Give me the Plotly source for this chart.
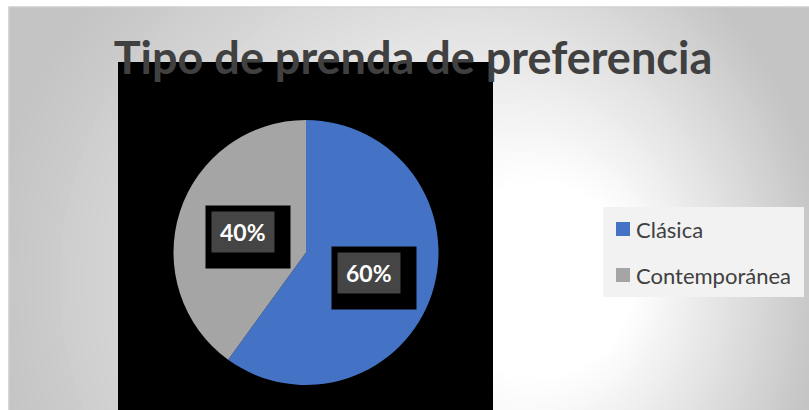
import math
import plotly.graph_objects as go

# ---- data ----
categories = ["Clásica", "Contemporánea"]
values = [60, 40]
colors = ["#4472C4", "#A5A5A5"]
title_text = "Tipo de prenda de preferencia"

W, H = 809, 410


def px(x):
    return x / W


def py(y):
    return 1 - y / H


# pie geometry (pixels)
CX, CY, R = 306, 252.5, 132.5

fig = go.Figure(
    go.Pie(
        labels=categories,
        values=values,
        marker=dict(colors=colors, line=dict(width=0)),
        sort=False,
        direction="clockwise",
        rotation=0,
        textinfo="none",
        hoverinfo="label+percent",
        showlegend=False,
        domain=dict(x=[px(CX - R), px(CX + R)], y=[py(CY + R), py(CY - R)]),
    )
)

shapes = []
# radial background gradient (decoration)
for r in range(800, 80, -6):
    cx = 575 - 0.4 * r
    cy = 280
    if r <= 100:
        v = 255
    else:
        v = max(196, round(255 - (r - 100) / 320 * 59))
    col = f"rgb({v},{v},{v})"
    shapes.append(dict(type="circle", xref="paper", yref="paper",
                       x0=px(cx - r), x1=px(cx + r), y0=py(cy + r), y1=py(cy - r),
                       fillcolor=col, line=dict(width=0), layer="below"))
# white outer margins and thin border
shapes.append(dict(type="rect", xref="paper", yref="paper", x0=0, x1=px(8.5), y0=0, y1=1,
                   fillcolor="white", line=dict(width=0), layer="below"))
shapes.append(dict(type="rect", xref="paper", yref="paper", x0=0, x1=1, y0=py(6.5), y1=1,
                   fillcolor="white", line=dict(width=0), layer="below"))
shapes.append(dict(type="line", xref="paper", yref="paper", x0=px(8.5), x1=1, y0=py(7), y1=py(7),
                   line=dict(color="#d0d0d0", width=1.2), layer="below"))
shapes.append(dict(type="line", xref="paper", yref="paper", x0=px(9), x1=px(9), y0=0, y1=py(7),
                   line=dict(color="#d0d0d0", width=1.2), layer="below"))
# black plot-area block
shapes.append(dict(type="rect", xref="paper", yref="paper", x0=px(118), x1=px(493), y0=0, y1=py(62),
                   fillcolor="black", line=dict(width=0), layer="below"))
# legend box
shapes.append(dict(type="rect", xref="paper", yref="paper", x0=px(603), x1=px(804), y0=py(297), y1=py(207),
                   fillcolor="#f2f2f2", line=dict(width=0), layer="below"))

annotations = []
leg_y = [229, 275]
for i, (cat, col) in enumerate(zip(categories, colors)):
    yc = leg_y[i]
    shapes.append(dict(type="rect", xref="paper", yref="paper", x0=px(616), x1=px(630),
                       y0=py(yc + 7), y1=py(yc - 7), fillcolor=col, line=dict(width=0), layer="below"))
    annotations.append(dict(text=cat, xref="paper", yref="paper", x=px(634), y=py(yc),
                            xanchor="left", yanchor="middle", showarrow=False,
                            font=dict(family="Lato", size=22, color="#404040")))

# percentage labels in boxes
total = sum(values)
cum = 0
label_shapes = []
for v in values:
    frac = v / total
    mid = cum + frac / 2
    cum += frac
    th = 2 * math.pi * mid
    lx = CX + 0.5 * R * math.sin(th)
    ly = CY - 0.5 * R * math.cos(th)
    label = f"{round(frac * 100)}%"
    # shadow box (offset) and label box
    label_shapes.append(dict(type="rect", xref="paper", yref="paper",
                             x0=px(lx - 37.5), x1=px(lx + 47.5), y0=py(ly + 36.5), y1=py(ly - 26.5),
                             fillcolor="black", line=dict(width=0), layer="above"))
    label_shapes.append(dict(type="rect", xref="paper", yref="paper",
                             x0=px(lx - 31.5), x1=px(lx + 31.5), y0=py(ly + 20.5), y1=py(ly - 20.5),
                             fillcolor="#454545", line=dict(width=0), layer="above"))
    annotations.append(dict(text=f"<b>{label}</b>", xref="paper", yref="paper", x=px(lx), y=py(ly),
                            xanchor="center", yanchor="middle", showarrow=False,
                            font=dict(family="Lato", size=23, color="white")))
shapes.extend(label_shapes)

fig.update_layout(
    width=W, height=H,
    margin=dict(l=0, r=0, t=0, b=0),
    paper_bgcolor="white",
    title=dict(text=f"<b>{title_text}</b>", x=px(413), xanchor="center", xref="paper",
               y=1 - 58 / H, yanchor="middle", yref="container",
               font=dict(family="Lato", size=45, color="#404040")),
    shapes=shapes,
    annotations=annotations,
    showlegend=False,
)

fig.write_html("out.html")
